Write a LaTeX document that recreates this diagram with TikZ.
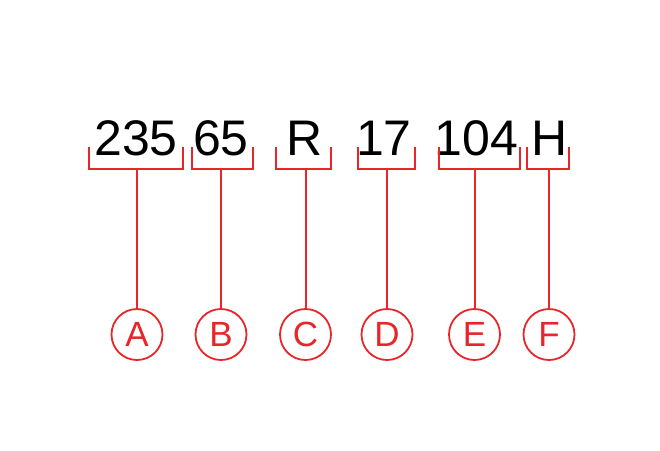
\documentclass[tikz,border=0pt]{standalone}
\usepackage{fontspec}
\setmainfont{Liberation Sans}
\definecolor{lblred}{RGB}{232,38,42}
\begin{document}
\begin{tikzpicture}[x=1pt,y=-1pt,
  part/.style={font=\fontsize{50}{50}\selectfont, anchor=base, inner sep=0pt, text=black},
  tag/.style={circle, draw=lblred, line width=1.8pt, minimum size=51pt, inner sep=0pt, text=lblred, font=\fontsize{35}{35}\selectfont},
  brk/.style={draw=lblred, line width=2.2pt},
  lead/.style={draw=lblred, line width=2pt}]
\useasboundingbox (0,0) rectangle (660,450);
% texts
\node[part] (t1) at (136,155) {235};
\node[part] (t2) at (221,155) {65};
\node[part] (t3) at (305,155) {R};
\node[part] (t4) at (384,155) {17};
\node[part] (t5) at (476.5,155) {104};
\node[part] (t6) at (550,155) {H};
% brackets
\path[brk] (89,147) -- (89,169) -- (183,169) -- (183,147);
\path[brk] (192,147) -- (192,169) -- (253,169) -- (253,147);
\path[brk] (276,147) -- (276,169) -- (331,169) -- (331,147);
\path[brk] (358,147) -- (358,169) -- (415,169) -- (415,147);
\path[brk] (439,147) -- (439,169) -- (520,169) -- (520,147);
\path[brk] (527,147) -- (527,169) -- (569,169) -- (569,147);
\coordinate (bA) at (137,169);
\coordinate (bB) at (221,169);
\coordinate (bC) at (305.5,169);
\coordinate (bD) at (387,169);
\coordinate (bE) at (474.5,169);
\coordinate (bF) at (549,169);
% circles
\node[tag] (cA) at (137,334.5) {A};
\node[tag] (cB) at (221,334.5) {B};
\node[tag] (cC) at (305.5,334.5) {C};
\node[tag] (cD) at (387,334.5) {D};
\node[tag] (cE) at (474.5,334.5) {E};
\node[tag] (cF) at (549,334.5) {F};
% leads
\foreach \k in {A,B,C,D,E,F}{\path[lead] (b\k) -- (c\k);}
\end{tikzpicture}
\end{document}
